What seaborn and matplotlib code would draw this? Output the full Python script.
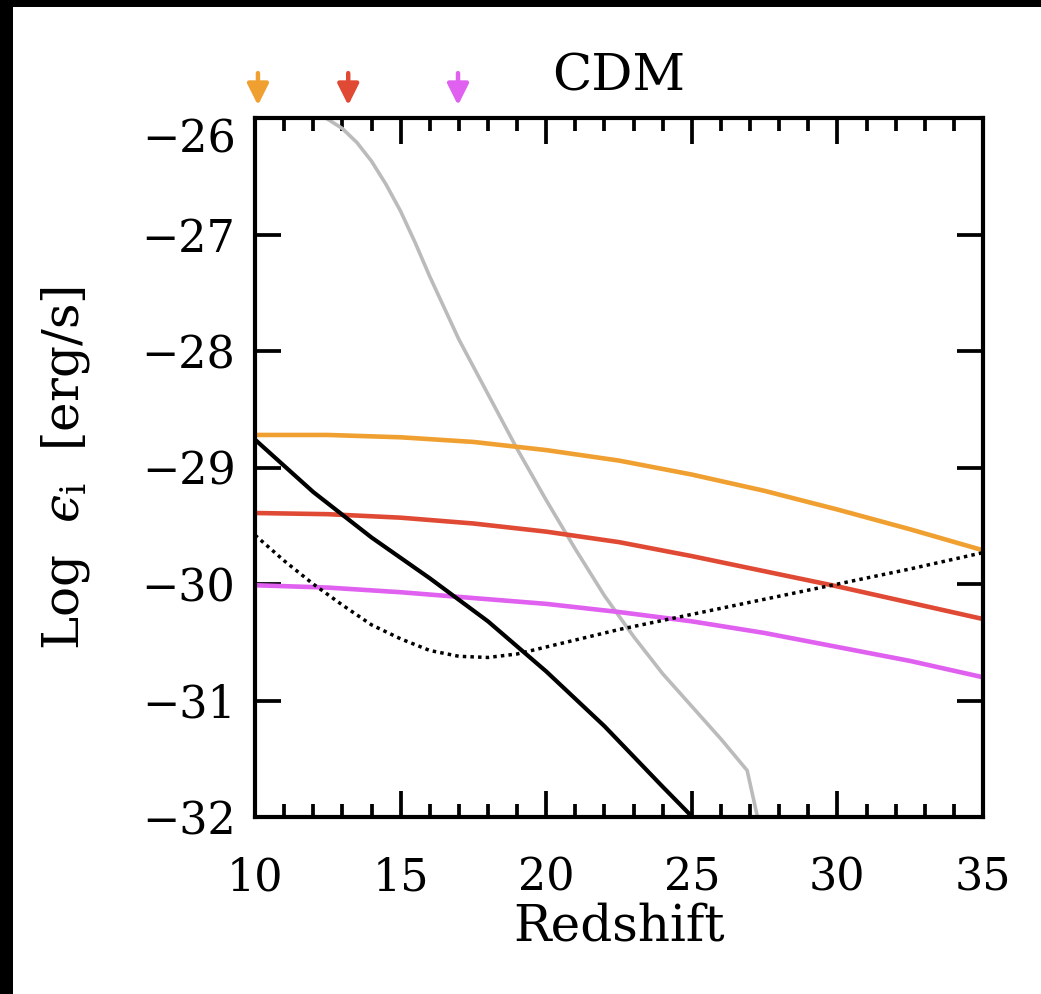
import matplotlib
matplotlib.use("Agg")
import matplotlib.pyplot as plt
from matplotlib.patches import Rectangle
from matplotlib.ticker import MultipleLocator
import seaborn as sns

# curve values (redshift vs log emissivity)
z_col = [10, 12.5, 15, 17.5, 20, 22.5, 25, 27.5, 30, 32.5, 35]
eps_orange = [-28.72, -28.72, -28.74, -28.78, -28.85, -28.94, -29.06, -29.20, -29.36, -29.53, -29.71]
eps_red = [-29.39, -29.40, -29.43, -29.48, -29.55, -29.64, -29.76, -29.89, -30.02, -30.16, -30.30]
eps_magenta = [-30.01, -30.03, -30.07, -30.12, -30.17, -30.24, -30.32, -30.42, -30.54, -30.66, -30.80]

z_black = [10, 12, 14, 16, 18, 20, 22, 24, 25.1]
eps_black = [-28.76, -29.21, -29.60, -29.95, -30.32, -30.75, -31.22, -31.74, -32.02]

z_dot = [10, 11, 12, 13, 14, 15, 16, 17, 18, 19, 20, 22.5, 25, 27.5, 30, 32.5, 35]
eps_dot = [-29.58, -29.80, -30.00, -30.18, -30.35, -30.47, -30.57, -30.62, -30.63, -30.60,
           -30.54, -30.39, -30.26, -30.13, -30.00, -29.87, -29.73]

z_gray = [12.2, 12.5, 13, 13.5, 14, 14.5, 15, 15.5, 16, 17, 18, 19, 20, 21, 22, 23, 24, 25, 26, 26.9, 27.3]
eps_gray = [-25.97, -26.01, -26.09, -26.21, -26.37, -26.57, -26.80, -27.07, -27.36, -27.90, -28.37,
            -28.84, -29.28, -29.70, -30.10, -30.45, -30.77, -31.05, -31.33, -31.60, -32.05]

arrow_z = [10.1, 13.2, 16.97]
arrow_colors = ["#F0A030", "#E04A35", "#E060F0"]

sns.set_theme(style="ticks")
plt.rcParams["font.family"] = ["DejaVu Serif"]
plt.rcParams["mathtext.fontset"] = "dejavuserif"

fig = plt.figure(figsize=(10.41, 9.94), dpi=100)
fig.patch.set_facecolor("black")
fig.patches.append(Rectangle((13 / 1041, 0), 1, 1 - 7 / 994, transform=fig.transFigure,
                             facecolor="white", edgecolor="none", zorder=-10))
ax = fig.add_axes([0.245, 0.178, 0.6993, 0.7032])
ax.set_facecolor("white")

lw = 3.3
sns.lineplot(x=z_gray, y=eps_gray, ax=ax, color="#BBBBBB", lw=2.6, estimator=None, sort=False)
sns.lineplot(x=z_col, y=eps_orange, ax=ax, color="#F0A030", lw=lw, estimator=None)
sns.lineplot(x=z_col, y=eps_red, ax=ax, color="#E04A35", lw=lw, estimator=None)
sns.lineplot(x=z_col, y=eps_magenta, ax=ax, color="#E060F0", lw=lw, estimator=None)
sns.lineplot(x=z_black, y=eps_black, ax=ax, color="black", lw=3.0, estimator=None)
ax.plot(z_dot, eps_dot, color="black", lw=2.5, linestyle=(0, (1, 1.2)))

ax.set_xlim(10, 35)
ax.set_ylim(-32, -26)
ax.set_xticks([10, 15, 20, 25, 30, 35])
ax.xaxis.set_minor_locator(MultipleLocator(1))
ax.set_yticks([-32, -31, -30, -29, -28, -27, -26])
ax.tick_params(which="both", direction="in", top=True, right=True, width=2.7, color="black",
               labelsize=32, labelcolor="black")
ax.tick_params(which="major", length=19)
ax.tick_params(which="minor", length=9.5)
ax.tick_params(axis="x", pad=28)
ax.tick_params(axis="y", pad=14)
for s in ax.spines.values():
    s.set_linewidth(3.0)
    s.set_color("black")
    s.set_visible(True)

ax.set_xlabel("Redshift", fontsize=36, labelpad=2, color="black")
ax.set_ylabel("Log  $\u03f5_{\\mathrm{i}}$  [erg/s]", fontsize=36, labelpad=36, color="black")
ax.set_title("CDM", fontsize=37, pad=20, color="black")

for lab in ax.get_yticklabels():
    if lab.get_text() == "\u221226":
        lab.set_va("top")

for zc, c in zip(arrow_z, arrow_colors):
    ax.annotate("", xy=(zc, -25.914), xytext=(zc, -25.59),
                arrowprops=dict(arrowstyle="-|>", color=c, lw=3.2, mutation_scale=32),
                annotation_clip=False)

fig.savefig("out.png", dpi=100, facecolor=fig.get_facecolor())
